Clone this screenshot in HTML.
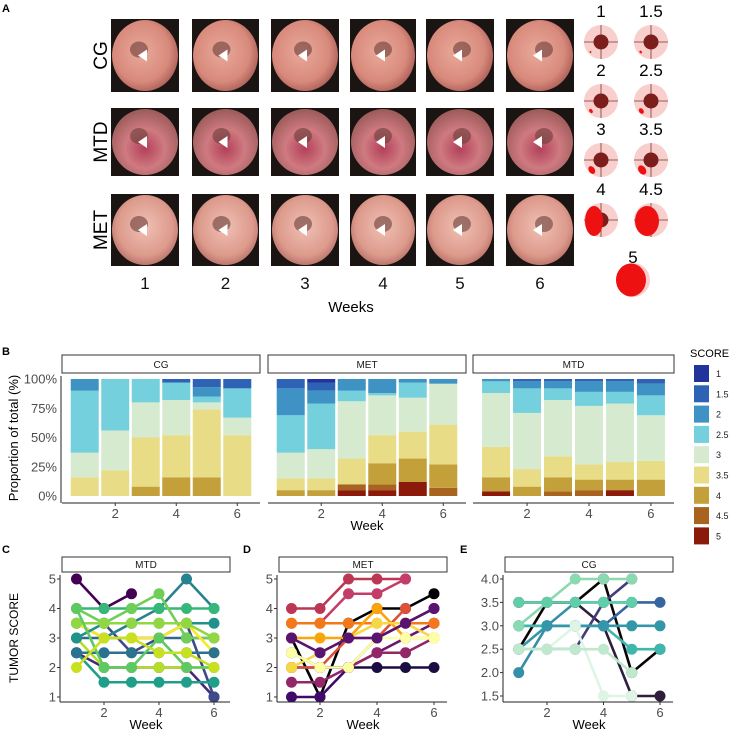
<!DOCTYPE html>
<html><head><meta charset="utf-8">
<style>
body{margin:0;background:#fff;}
svg{display:block;font-family:"Liberation Sans",sans-serif;}
.tick{font-family:"Liberation Sans Narrow","Liberation Sans",sans-serif;font-size:13px;fill:#4d4d4d;}
.strip{font-family:"Liberation Sans Narrow","Liberation Sans",sans-serif;font-size:10px;fill:#1a1a1a;}
</style></head>
<body>
<svg id="fig" width="729" height="731" viewBox="0 0 729 731">
<defs>
<radialGradient id="tis1" cx="0.45" cy="0.45" r="0.6"><stop offset="0" stop-color="#e9a99a"/><stop offset="0.7" stop-color="#d88a7c"/><stop offset="1" stop-color="#a95c55"/></radialGradient>
<radialGradient id="tis2" cx="0.5" cy="0.6" r="0.6"><stop offset="0" stop-color="#b2405a"/><stop offset="0.5" stop-color="#cf7a80"/><stop offset="1" stop-color="#9a5a58"/></radialGradient>
<radialGradient id="tis3" cx="0.5" cy="0.45" r="0.6"><stop offset="0" stop-color="#f0c0b4"/><stop offset="0.7" stop-color="#dc9a8c"/><stop offset="1" stop-color="#b06a62"/></radialGradient>
</defs>
<g id="panelA"></g>
<g id="panelB"></g>
<g id="panelC"></g>
</svg>
<script>
// ---------- Panel B data (percent per score, weeks 1-6) ----------
const scores = ["1","1.5","2","2.5","3","3.5","4","4.5","5"];
const scoreColors = ["#22349b","#2d62b4","#3e92c4","#75d0dd","#d6ead0","#e8dc86","#c4a03a","#a8631f","#8b1a0a"];
const weeksB = [1,2,3,4,5,6];
const pctTicks = ["0%","25%","50%","75%","100%"];
const pctTickVals = [0,25,50,75,100];
// each row: week -> percentages for scores [1,1.5,2,2.5,3,3.5,4,4.5,5]
const cgPct = [
 [0,0,10,53,21,16,0,0,0],
 [0,0,0,44,34,22,0,0,0],
 [0,0,0,20,30,42,8,0,0],
 [0,3,0,15,30,36,16,0,0],
 [0,7,8,5,6,58,16,0,0],
 [0,8,0,25,15,52,0,0,0]];
const metPct = [
 [0,8,23,32,22,10,5,0,0],
 [3,7,11,39,25,10,5,0,0],
 [0,0,10,9,49,22,0,5,5],
 [0,0,12,2,34,24,18,5,5],
 [0,0,3,13,29,23,20,0,12],
 [0,0,4,0,35,34,20,7,0]];
const mtdPct = [
 [0,0,2,10,46,26,12,0,4],
 [0,2,6,21,48,15,8,0,0],
 [0,2,6,10,48,18,12,4,0],
 [0,2,9,12,50,13,9,5,0],
 [0,2,9,10,50,15,9,0,5],
 [0,4,10,17,39,16,14,0,0]];
const facetNames = ["CG","MET","MTD"];
const facetData = [cgPct, metPct, mtdPct];

// ---------- Panels C/D/E data ----------
const lineWeeks = [1,2,3,4,5,6];
const mtdSeries = [
 [5,4,4.5],[2.5,2,2,2,2,1],[3.5,3.5,2.5,3,3.5,1],[3,3,3,3,3,3],[3.5,3,3.5,4,5,4],
 [2.5,1.5,1.5,1.5,1.5,1.5],[4,4,4,4,4,4],[4,3.5,4,4.5,3,3],[3,2,2,2,2,2],
 [3.5,3,3,3,3.5,2.5],[2.5,2.5,2.5,2.5,2.5,2.5],[3,3.5,3.5,3.5,3.5,3.5],[3.5,3.5,3.5,3.5,3.5,3],[4,2,2,3,2,2],[2,3,3,2.5,2.5,2]];
const mtdColors = ["#440154","#482878","#3e4a89","#31688e","#26828e","#1f9e89","#35b779","#6ece58","#b5de2b","#fde725","#2c728e","#21918c","#90d743","#5ec962","#c8e020"];
const metSeries = [
 [3,1,3.5,4,4,4.5],[2,2,2,2,2,2],[1,1,2,3,3.5,4],[2.5,2,2,2.5,3,3.5],[1.5,1.5,2,2.5,2.5,3],
 [4,4,5,5,5],[3.5,3.5,4.5,4.5,5],[2,2,3,3,4],[3.5,3.5,3.5,3.5,3.5,3.5],[3,3,3,4,3,3],
 [2,2.5,3,3.5,3.5,3],[2.5,2,2,3,3,3],[3,2.5,3,3,3.5,4]];
const metColors = ["#000004","#1b0c41","#420a68","#6a176e","#932667","#bc3754","#c43c68","#dd513a","#f37819","#fca50a","#f6d746","#fcffa4","#5a1370"];
const cgSeries = [
 [2.5,3.5,3.5,4,2,2.5],[3.5,3.5,3.5,3,1.5,1.5],[2.5,2.5,2.5,3.5,4],[3,3,3,3,3.5,3.5],
 [2,3,3.5,3.5,3.5],[3,3,3,3,2.5,2.5],[2.5,3,3,3,3,3],[3,3.5,4,4,4],[3.5,3.5,3.5,3.5,3.5],
 [2.5,2.5,3,1.5,1.5],[2.5,2.5,2.5,2.5,2]];
const cgColors = ["#0b0405","#2e1e3b","#413d7b","#37659e","#348fa7","#40b7ad","#3497a9","#8ad9b1","#60cea9","#def5e5","#c0e8cc"];

const NS="http://www.w3.org/2000/svg";
function mk(tag,attrs,parent,text){const e=document.createElementNS(NS,tag);for(const k in attrs)e.setAttribute(k,attrs[k]);if(text!==undefined)e.textContent=text;parent.appendChild(e);return e;}

// ---------- Panel A ----------
const A=document.getElementById('panelA');
let t=mk('text',{x:2,y:12,'font-size':11,'font-weight':'bold'},A,'A');

const colX=[[111,179],[192,259],[271,339],[350,416],[426,494],[506,574]];
const rowY=[[19,92],[108,176],[194,266]];
const rowNames=["CG","MTD","MET"];
const grads=["url(#tis1)","url(#tis2)","url(#tis3)"];
rowY.forEach((ry,ri)=>{
  const lbl=mk('text',{x:0,y:0,'font-size':19,'text-anchor':'middle',transform:`translate(${107},${(ry[0]+ry[1])/2}) rotate(-90)`},A,rowNames[ri]);
  
  colX.forEach((cx,ci)=>{
    const g=mk('g',{},A);
    
    mk('rect',{x:cx[0],y:ry[0],width:cx[1]-cx[0],height:ry[1]-ry[0],fill:'#1a1412'},g);
    const mx=(cx[0]+cx[1])/2,my=(ry[0]+ry[1])/2;
    mk('ellipse',{cx:mx,cy:my,rx:(cx[1]-cx[0])/2-1,ry:(ry[1]-ry[0])/2-1,fill:grads[ri]},g);
    mk('ellipse',{cx:mx-6+ci*2,cy:my-6,rx:9,ry:8,fill:'#6b3d38',opacity:0.6},g);
    mk('polygon',{points:`${mx+2},${my-6} ${mx+2},${my+6} ${mx-7},${my}`,fill:'#fff'},g);
  });
});
colX.forEach((cx,ci)=>{
  const w=mk('text',{x:(cx[0]+cx[1])/2,y:289,'font-size':17,'text-anchor':'middle',fill:'#111'},A,String(ci+1));
  
});
t=mk('text',{x:351,y:312,'font-size':15,'text-anchor':'middle'},A,'Weeks');

// score schematics
const schem=[["1",601,42,0.8],["1.5",651,42,1.1],["2",601,101,1.6],["2.5",651,101,2.2],["3",601,160,3],["3.5",651,160,3.6]];
schem.forEach(s=>{
  const g=mk('g',{},A);
  
  mk('text',{x:s[1],y:s[2]-25,'font-size':17,'text-anchor':'middle'},g,s[0]);
  mk('circle',{cx:s[1],cy:s[2],r:17,fill:'#f8cfcc'},g);
  mk('line',{x1:s[1]-17,y1:s[2],x2:s[1]+17,y2:s[2],stroke:'#6b3b38','stroke-width':0.8},g);
  mk('line',{x1:s[1],y1:s[2]-17,x2:s[1],y2:s[2]+17,stroke:'#6b3b38','stroke-width':0.8},g);
  mk('circle',{cx:s[1],cy:s[2],r:7.5,fill:'#7b1e1c'},g);
  mk('ellipse',{cx:s[1]-11+s[3]*0.6,cy:s[2]+10,rx:s[3],ry:s[3]*1.4,fill:'#ee1111',transform:`rotate(-35 ${s[1]-11+s[3]*0.6} ${s[2]+10})`},g);
});
[["4",601,220,9],["4.5",651,220,12]].forEach(s=>{
  const g=mk('g',{},A);
  
  mk('text',{x:s[1],y:s[2]-25,'font-size':17,'text-anchor':'middle'},g,s[0]);
  mk('circle',{cx:s[1],cy:s[2],r:17,fill:'#f8cfcc'},g);
  mk('line',{x1:s[1]-17,y1:s[2],x2:s[1]+17,y2:s[2],stroke:'#6b3b38','stroke-width':0.8},g);
  mk('line',{x1:s[1],y1:s[2]-17,x2:s[1],y2:s[2]+17,stroke:'#6b3b38','stroke-width':0.8},g);
  mk('circle',{cx:s[1],cy:s[2],r:7.5,fill:'#7b1e1c'},g);
  mk('ellipse',{cx:s[1]-16+s[3],cy:s[2]+1,rx:s[3],ry:15,fill:'#ee1111'},g);
});
{const g=mk('g',{},A);
 
 mk('text',{x:633,y:263,'font-size':17,'text-anchor':'middle'},g,'5');
 mk('circle',{cx:633,cy:280,r:17,fill:'#f8cfcc'},g);
 mk('ellipse',{cx:631,cy:280,rx:15,ry:16.5,fill:'#ee1111'},g);}

// ---------- Panel B ----------
const B=document.getElementById('panelB');
t=mk('text',{x:2,y:355,'font-size':11,'font-weight':'bold'},B,'B');

const facetBox=[[62,260],[268,466],[473,674]];
const plotTop=379,plotBot=496;
function yB(p){return plotBot-(p/100)*(plotBot-plotTop);}
function xB(fi,w){const f=facetBox[fi];const lo=0.255,hi=6.745;return f[0]+(w-lo)/(hi-lo)*(f[1]-f[0]);}
facetNames.forEach((fn,fi)=>{
  const f=facetBox[fi];
  const st=mk('g',{},B);
  mk('rect',{x:f[0],y:355,width:f[1]-f[0],height:18,fill:'#fff',stroke:'#333','stroke-width':1},st);
  mk('text',{x:(f[0]+f[1])/2,y:368,'text-anchor':'middle',class:'strip'},st,fn);
  facetData[fi].forEach((row,wi)=>{
    let cum=0;
    for(let si=scores.length-1;si>=0;si--){
      const v=row[si]; if(!v) continue;
      const r=mk('rect',{x:xB(fi,weeksB[wi])-14,y:yB(cum+v),width:28,height:yB(cum)-yB(cum+v),fill:scoreColors[si]},B);
      
      
      cum+=v;
    }
  });
  mk('line',{x1:f[0],y1:503,x2:f[1],y2:503,stroke:'#222','stroke-width':1},B);
  [2,4,6].forEach(w=>{
    mk('line',{x1:xB(fi,w),y1:503,x2:xB(fi,w),y2:506,stroke:'#333'},B);
    const tt=mk('text',{x:xB(fi,w),y:518,'text-anchor':'middle',class:'tick'},B,String(w));
    
  });
});
mk('line',{x1:61,y1:376,x2:61,y2:503,stroke:'#222'},B);
pctTickVals.forEach((v,i)=>{
  const tt=mk('text',{x:57,y:yB(v)+4.5,'text-anchor':'end',class:'tick'},B,pctTicks[i]);
  
});
t=mk('text',{x:0,y:0,'font-size':13,'text-anchor':'middle',transform:'translate(18,438) rotate(-90)'},B,'Proportion of total (%)');

t=mk('text',{x:367,y:530,'font-size':13,'text-anchor':'middle'},B,'Week');

t=mk('text',{x:690,y:357,'font-size':11},B,'SCORE');

scores.forEach((s,i)=>{
  const g=mk('g',{},B);
  const y=365+i*20.3;
  mk('rect',{x:694,y:y,width:15,height:17,fill:scoreColors[i]},g);
  mk('text',{x:716,y:y+12,'font-size':9,fill:'#222'},g,s);
});

// ---------- Panels C/D/E ----------
const C=document.getElementById('panelC');
const panels=[
 {lab:'C',lx:2,name:'MTD',left:60,strip:[62,230],w2:104,unit:27.5,ymin:1,ymax:5,yTop:579,yBot:697,ticks:[1,2,3,4,5],fmt:v=>String(v),series:mtdSeries,colors:mtdColors},
 {lab:'D',lx:243,name:'MET',left:277,strip:[279,447],w2:320,unit:28.5,ymin:1,ymax:5,yTop:579,yBot:697,ticks:[1,2,3,4,5],fmt:v=>String(v),series:metSeries,colors:metColors},
 {lab:'E',lx:460,name:'CG',left:503,strip:[505,673],w2:547,unit:28.25,ymin:1.5,ymax:4,yTop:579,yBot:696,ticks:[1.5,2,2.5,3,3.5,4],fmt:v=>v.toFixed(1),series:cgSeries,colors:cgColors}
];
panels.forEach(p=>{
  const g=mk('g',{},C);
  const xs=w=>p.w2+(w-2)*p.unit;
  const ys=v=>p.yBot-(v-p.ymin)/(p.ymax-p.ymin)*(p.yBot-p.yTop);
  let tt=mk('text',{x:p.lx,y:553,'font-size':11,'font-weight':'bold'},g,p.lab);
  
  const st=mk('g',{},g);
  mk('rect',{x:p.strip[0],y:557,width:p.strip[1]-p.strip[0],height:15,fill:'#fff',stroke:'#333'},st);
  mk('text',{x:(p.strip[0]+p.strip[1])/2,y:568,'text-anchor':'middle',class:'strip'},st,p.name);
  p.series.forEach((s,si)=>{
    const col=p.colors[si%p.colors.length];
    const pts=s.map((v,i)=>xs(lineWeeks[i])+','+ys(v)).join(' ');
    const pl=mk('polyline',{points:pts,fill:'none',stroke:col,'stroke-width':2.6},g);
    
    s.forEach((v,i)=>{
      const c=mk('circle',{cx:xs(lineWeeks[i]),cy:ys(v),r:5.5,fill:col},g);
      
    });
  });
  mk('line',{x1:p.left,y1:575,x2:p.left,y2:702,stroke:'#222'},g);
  mk('line',{x1:p.left,y1:702,x2:p.strip[1],y2:702,stroke:'#222'},g);
  p.ticks.forEach(v=>{
    mk('line',{x1:p.left-3,y1:ys(v),x2:p.left,y2:ys(v),stroke:'#333'},g);
    const l=mk('text',{x:p.left-4,y:ys(v)+4.5,'text-anchor':'end',class:'tick'},g,p.fmt(v));
    
  });
  [2,4,6].forEach(w=>{
    mk('line',{x1:xs(w),y1:702,x2:xs(w),y2:705,stroke:'#333'},g);
    const l=mk('text',{x:xs(w),y:717,'text-anchor':'middle',class:'tick'},g,String(w));
    
  });
  tt=mk('text',{x:(p.strip[0]+p.strip[1])/2,y:729,'font-size':13,'text-anchor':'middle'},g,'Week');
  
});
t=mk('text',{x:0,y:0,'font-size':12,'text-anchor':'middle',transform:'translate(18,638) rotate(-90)'},C,'TUMOR SCORE');

</script>
</body></html>
